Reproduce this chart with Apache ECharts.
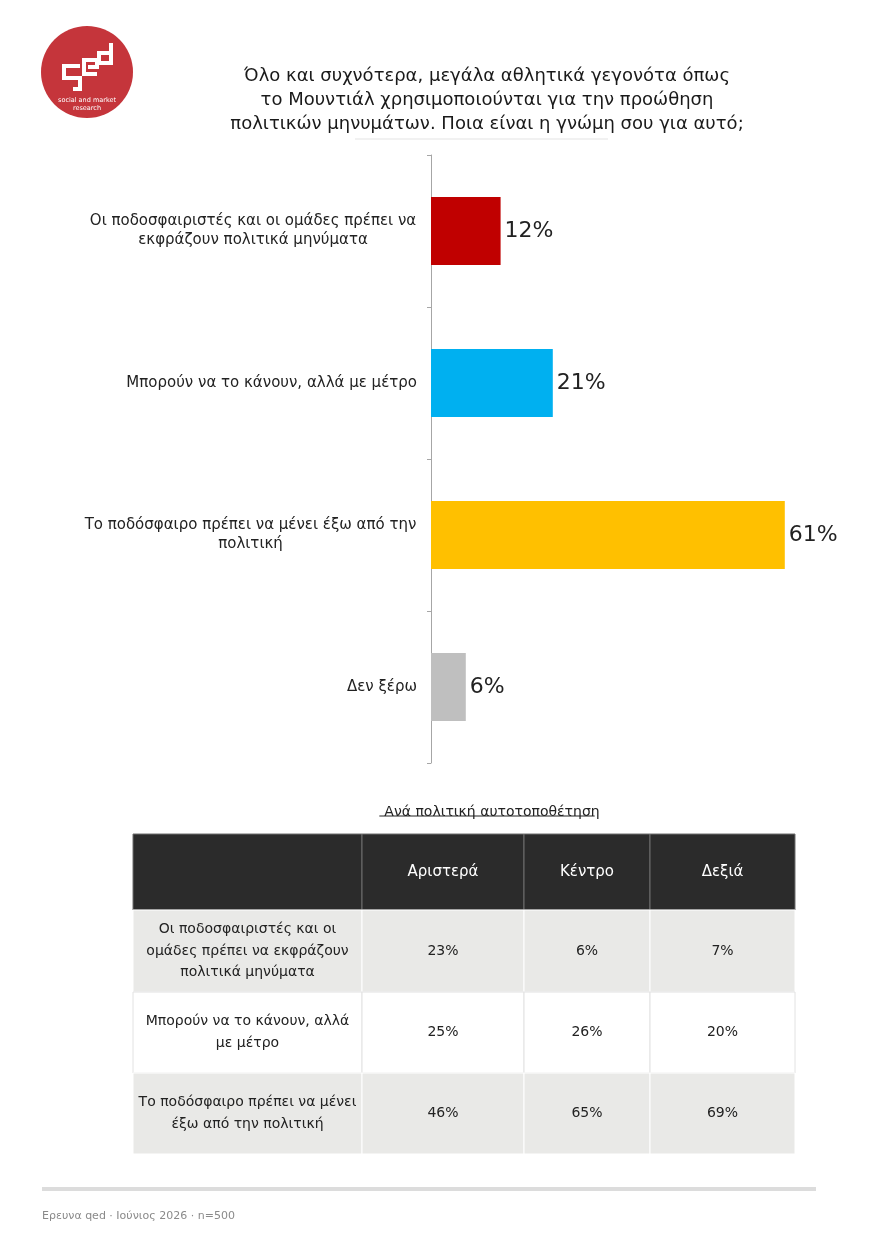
<!DOCTYPE html>
<html><head><meta charset="utf-8">
<script src="https://cdn.jsdelivr.net/npm/echarts@6/dist/echarts.min.js"></script>
<style>html,body{margin:0;padding:0;background:#fff}#c{width:880px;height:1245px}</style>
</head><body><div id="c"></div>
<script>
// ---- data ----
const titleLines = [
  'Όλο και συχνότερα, μεγάλα αθλητικά γεγονότα όπως',
  'το Μουντιάλ χρησιμοποιούνται για την προώθηση',
  'πολιτικών μηνυμάτων. Ποια είναι η γνώμη σου για αυτό;'
];
const categories = [
  'Οι ποδοσφαιριστές και οι ομάδες πρέπει να\nεκφράζουν πολιτικά μηνύματα',
  'Μπορούν να το κάνουν, αλλά με μέτρο',
  'Το ποδόσφαιρο πρέπει να μένει έξω από την\nπολιτική',
  'Δεν ξέρω'
];
const values = [12, 21, 61, 6];
const barColors = ['#c00000', '#00b0f0', '#ffc000', '#bfbfbf'];

const tableSubtitle = 'Ανά πολιτική αυτοτοποθέτηση';
const tableColumns = ['Αριστερά', 'Κέντρο', 'Δεξιά'];
const tableRows = [
  'Οι ποδοσφαιριστές και οι\nομάδες πρέπει να εκφράζουν\nπολιτικά μηνύματα',
  'Μπορούν να το κάνουν, αλλά\nμε μέτρο',
  'Το ποδόσφαιρο πρέπει να μένει\nέξω από την πολιτική'
];
const leftValues = [23, 25, 46];
const centerValues = [6, 26, 65];
const rightValues = [7, 20, 69];
const footerText = 'Ερευνα qed · Ιούνιος 2026 · n=500';

// ---- layout ----
const FONT = '"DejaVu Sans", "Noto Sans", sans-serif';
const colEdges = [0, 229, 391, 517, 662];
const rowEdges = [0, 76, 158, 239, 320];

const mctx = document.createElement('canvas').getContext('2d');
function textW(t, size) { mctx.font = size + 'px ' + FONT; return mctx.measureText(t).width; }

const LABEL_SIZE = 15;
const rich = {};
categories.forEach((c, i) => {
  const lines = c.split('\n');
  const w = Math.max(...lines.map(l => textW(l, LABEL_SIZE)));
  rich['w' + i] = { width: Math.ceil(w) + 1, align: 'center', fontSize: LABEL_SIZE, fontFamily: FONT, color: '#222', lineHeight: 19 };
});

// table cells
const cells = [];
cells.push([0, 0, '']);
tableColumns.forEach((t, j) => cells.push([j + 1, 0, t]));
tableRows.forEach((t, i) => {
  cells.push([0, i + 1, t]);
  cells.push([1, i + 1, leftValues[i] + '%']);
  cells.push([2, i + 1, centerValues[i] + '%']);
  cells.push([3, i + 1, rightValues[i] + '%']);
});

const SUB_SIZE = 14;
const subW = textW(tableSubtitle, SUB_SIZE);
const SUB_X = 487;

const chart = echarts.init(document.getElementById('c'), null, { renderer: 'canvas' });
chart.setOption({
  backgroundColor: '#ffffff',
  animation: false,
  textStyle: { fontFamily: FONT },
  title: [
    { text: titleLines.join('\n'), left: 482, top: 59, textAlign: 'center',
      textStyle: { fontSize: 18, lineHeight: 24, fontWeight: 'normal', color: '#1a1a1a', fontFamily: FONT } },
    { text: tableSubtitle, left: SUB_X, top: 800, textAlign: 'center',
      textStyle: { fontSize: SUB_SIZE, fontWeight: 'normal', color: '#222', fontFamily: FONT } }
  ],
  grid: [
    { left: 431, top: 155, width: 406, height: 608 },
    { left: 133, top: 834, width: 662, height: 320 }
  ],
  xAxis: [
    { type: 'value', min: 0, max: 70, show: false, gridIndex: 0 },
    { type: 'value', min: 0, max: 662, show: false, gridIndex: 1 }
  ],
  yAxis: [
    { type: 'category', data: categories, inverse: true, gridIndex: 0,
      axisLine: { show: true, lineStyle: { color: '#a6a6a6', width: 1 } },
      axisTick: { show: true, length: 4, lineStyle: { color: '#a6a6a6' } },
      splitLine: { show: false },
      axisLabel: {
        margin: 14, fontSize: LABEL_SIZE, color: '#222', fontFamily: FONT, lineHeight: 19,
        formatter: (v, i) => {
          const lines = v.split('\n');
          if (lines.length === 1) return v;
          return lines.map(l => '{w' + i + '|' + l + '}').join('\n');
        },
        rich: rich
      } },
    { type: 'value', min: 0, max: 320, inverse: true, show: false, gridIndex: 1 }
  ],
  series: [
    { type: 'bar', xAxisIndex: 0, yAxisIndex: 0, barWidth: 68,
      data: values.map((v, i) => ({ value: v, itemStyle: { color: barColors[i] } })),
      label: { show: true, position: 'right', distance: 4, formatter: '{c}%', fontSize: 22, color: '#222', fontFamily: FONT } },
    { type: 'custom', xAxisIndex: 1, yAxisIndex: 1, clip: false,
      data: cells.map(c => [c[0], c[1]]),
      encode: { x: 0, y: 1 },
      renderItem: (params, api) => {
        const c = api.value(0), r = api.value(1);
        const p0 = api.coord([colEdges[c], rowEdges[r]]);
        const p1 = api.coord([colEdges[c + 1], rowEdges[r + 1]]);
        const x = Math.min(p0[0], p1[0]), y = Math.min(p0[1], p1[1]);
        const w = Math.abs(p1[0] - p0[0]), h = Math.abs(p1[1] - p0[1]);
        const header = r === 0;
        const fill = header ? '#2b2b2b' : (r % 2 === 1 ? '#e9e9e7' : '#ffffff');
        const stroke = header ? '#6e6e6e' : (r % 2 === 1 ? '#ffffff' : '#e2e2e2');
        const text = cells[params.dataIndex][2];
        const fs = header ? 15 : 14;
        return { type: 'group', children: [
          { type: 'rect', shape: { x: x, y: y, width: w, height: h },
            style: { fill: fill, stroke: stroke, lineWidth: 1 } },
          { type: 'text', x: x + w / 2, y: y + h / 2,
            style: { text: text, textAlign: 'center', textVerticalAlign: 'middle',
              fill: header ? '#ffffff' : '#222', fontSize: fs, lineHeight: 21.5, fontFamily: FONT } }
        ] };
      } }
  ],
  graphic: [
    { type: 'circle', shape: { cx: 87, cy: 72, r: 46 }, style: { fill: '#c5353b' } },
    { type: 'polyline', shape: { points: [[80, 66], [64, 66], [64, 78], [80, 78], [80, 89], [73, 89]] },
      style: { stroke: '#fff', lineWidth: 4, fill: null } },
    { type: 'polyline', shape: { points: [[97, 74], [84, 74], [84, 60], [97, 60], [97, 67], [88, 67]] },
      style: { stroke: '#fff', lineWidth: 4, fill: null } },
    { type: 'polyline', shape: { points: [[111, 43], [111, 63], [99, 63], [99, 53], [109, 53]] },
      style: { stroke: '#fff', lineWidth: 4, fill: null } },
    { type: 'text', x: 87, y: 100, style: { text: 'social and market', fill: '#fff', fontSize: 6.5, textAlign: 'center', textVerticalAlign: 'middle', fontFamily: FONT } },
    { type: 'text', x: 87, y: 108, style: { text: 'research', fill: '#fff', fontSize: 6.5, textAlign: 'center', textVerticalAlign: 'middle', fontFamily: FONT } },
    { type: 'line', shape: { x1: 355, y1: 139, x2: 608, y2: 139 }, style: { stroke: '#e3e3e3', lineWidth: 1 } },
    { type: 'line', shape: { x1: SUB_X - subW / 2, y1: 816, x2: SUB_X + subW / 2, y2: 816 }, style: { stroke: '#222', lineWidth: 1 } },
    { type: 'rect', shape: { x: 42, y: 1187, width: 774, height: 4 }, style: { fill: '#dcdcdc' } },
    { type: 'text', x: 42, y: 1216, style: { text: footerText, fill: '#8a8a8a', fontSize: 11, textVerticalAlign: 'middle', fontFamily: FONT } }
  ]
});
</script>
</body></html>
